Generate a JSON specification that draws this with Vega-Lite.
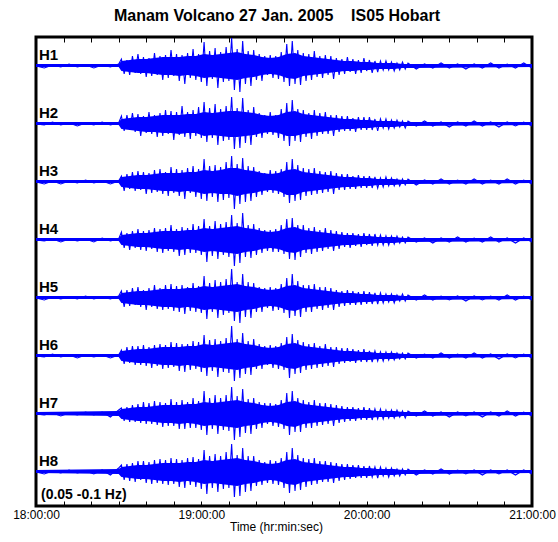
{
"$schema": "https://vega.github.io/schema/vega-lite/v6.json",
"width": 496, "height": 469,
"autosize": {"type": "none"},
"padding": {"left": 36, "top": 37, "right": 26, "bottom": 36},
"background": "white",
"title": {"text": "Manam Volcano 27 Jan. 2005\u00a0\u00a0\u00a0\u00a0IS05 Hobart", "font": "Liberation Sans", "fontSize": 16, "fontWeight": "bold", "color": "black", "offset": 13, "dx": -7},
"config": {"view": {"stroke": "black", "strokeWidth": 3}, "font": "Liberation Sans"},
"datasets": {"env": [
{"c":"H1","t":0,"lo":405,"hi":408},{"c":"H1","t":30,"lo":405,"hi":408},{"c":"H1","t":31,"lo":401,"hi":411},{"c":"H1","t":34,"lo":400,"hi":412},{"c":"H1","t":37,"lo":399,"hi":413},{"c":"H1","t":40,"lo":399,"hi":413},{"c":"H1","t":43,"lo":398,"hi":414},{"c":"H1","t":46,"lo":397,"hi":415},{"c":"H1","t":49,"lo":397,"hi":415},{"c":"H1","t":52,"lo":396,"hi":415},{"c":"H1","t":55,"lo":397,"hi":416},{"c":"H1","t":58,"lo":396,"hi":416},{"c":"H1","t":61,"lo":394,"hi":418},{"c":"H1","t":64,"lo":395,"hi":417},{"c":"H1","t":67,"lo":394,"hi":418},{"c":"H1","t":70,"lo":393,"hi":419},{"c":"H1","t":73,"lo":392,"hi":420},{"c":"H1","t":76,"lo":394,"hi":418},{"c":"H1","t":79,"lo":395,"hi":417},{"c":"H1","t":82,"lo":397,"hi":415},{"c":"H1","t":85,"lo":398,"hi":414},{"c":"H1","t":88,"lo":397,"hi":415},{"c":"H1","t":91,"lo":394,"hi":418},{"c":"H1","t":94,"lo":393,"hi":419},{"c":"H1","t":97,"lo":396,"hi":416},{"c":"H1","t":100,"lo":397,"hi":415},{"c":"H1","t":103,"lo":398,"hi":414},{"c":"H1","t":106,"lo":399,"hi":413},{"c":"H1","t":109,"lo":400,"hi":412},{"c":"H1","t":112,"lo":401,"hi":411},{"c":"H1","t":115,"lo":401,"hi":411},{"c":"H1","t":118,"lo":402,"hi":410},{"c":"H1","t":121,"lo":402,"hi":410},{"c":"H1","t":124,"lo":403,"hi":409},{"c":"H1","t":127,"lo":403,"hi":409},{"c":"H1","t":130,"lo":403,"hi":409},{"c":"H1","t":133,"lo":404,"hi":408},{"c":"H1","t":136,"lo":404,"hi":408},{"c":"H1","t":180,"lo":405,"hi":408},
{"c":"H2","t":0,"lo":347,"hi":350},{"c":"H2","t":30,"lo":347,"hi":350},{"c":"H2","t":31,"lo":343,"hi":353},{"c":"H2","t":34,"lo":342,"hi":354},{"c":"H2","t":37,"lo":341,"hi":355},{"c":"H2","t":40,"lo":340,"hi":355},{"c":"H2","t":43,"lo":340,"hi":356},{"c":"H2","t":46,"lo":339,"hi":357},{"c":"H2","t":49,"lo":339,"hi":357},{"c":"H2","t":52,"lo":338,"hi":357},{"c":"H2","t":55,"lo":339,"hi":358},{"c":"H2","t":58,"lo":339,"hi":358},{"c":"H2","t":61,"lo":336,"hi":360},{"c":"H2","t":64,"lo":337,"hi":359},{"c":"H2","t":67,"lo":336,"hi":360},{"c":"H2","t":70,"lo":335,"hi":361},{"c":"H2","t":73,"lo":335,"hi":361},{"c":"H2","t":76,"lo":336,"hi":360},{"c":"H2","t":79,"lo":337,"hi":359},{"c":"H2","t":82,"lo":339,"hi":357},{"c":"H2","t":85,"lo":340,"hi":356},{"c":"H2","t":88,"lo":339,"hi":357},{"c":"H2","t":91,"lo":336,"hi":360},{"c":"H2","t":94,"lo":336,"hi":361},{"c":"H2","t":97,"lo":338,"hi":358},{"c":"H2","t":100,"lo":339,"hi":357},{"c":"H2","t":103,"lo":340,"hi":356},{"c":"H2","t":106,"lo":341,"hi":355},{"c":"H2","t":109,"lo":342,"hi":354},{"c":"H2","t":112,"lo":343,"hi":353},{"c":"H2","t":115,"lo":343,"hi":353},{"c":"H2","t":118,"lo":344,"hi":352},{"c":"H2","t":121,"lo":344,"hi":352},{"c":"H2","t":124,"lo":345,"hi":351},{"c":"H2","t":127,"lo":345,"hi":351},{"c":"H2","t":130,"lo":345,"hi":351},{"c":"H2","t":133,"lo":346,"hi":350},{"c":"H2","t":136,"lo":346,"hi":350},{"c":"H2","t":180,"lo":347,"hi":350},
{"c":"H3","t":0,"lo":289,"hi":292},{"c":"H3","t":30,"lo":289,"hi":292},{"c":"H3","t":31,"lo":285,"hi":295},{"c":"H3","t":34,"lo":284,"hi":296},{"c":"H3","t":37,"lo":283,"hi":297},{"c":"H3","t":40,"lo":283,"hi":297},{"c":"H3","t":43,"lo":282,"hi":298},{"c":"H3","t":46,"lo":281,"hi":299},{"c":"H3","t":49,"lo":281,"hi":299},{"c":"H3","t":52,"lo":280,"hi":299},{"c":"H3","t":55,"lo":281,"hi":300},{"c":"H3","t":58,"lo":280,"hi":300},{"c":"H3","t":61,"lo":278,"hi":302},{"c":"H3","t":64,"lo":279,"hi":301},{"c":"H3","t":67,"lo":278,"hi":302},{"c":"H3","t":70,"lo":278,"hi":304},{"c":"H3","t":73,"lo":276,"hi":304},{"c":"H3","t":76,"lo":278,"hi":302},{"c":"H3","t":79,"lo":279,"hi":301},{"c":"H3","t":82,"lo":281,"hi":299},{"c":"H3","t":85,"lo":282,"hi":298},{"c":"H3","t":88,"lo":281,"hi":299},{"c":"H3","t":91,"lo":277,"hi":302},{"c":"H3","t":94,"lo":277,"hi":303},{"c":"H3","t":97,"lo":280,"hi":300},{"c":"H3","t":100,"lo":281,"hi":299},{"c":"H3","t":103,"lo":282,"hi":298},{"c":"H3","t":106,"lo":283,"hi":297},{"c":"H3","t":109,"lo":284,"hi":296},{"c":"H3","t":112,"lo":285,"hi":295},{"c":"H3","t":115,"lo":285,"hi":295},{"c":"H3","t":118,"lo":286,"hi":294},{"c":"H3","t":121,"lo":286,"hi":294},{"c":"H3","t":124,"lo":287,"hi":293},{"c":"H3","t":127,"lo":287,"hi":293},{"c":"H3","t":130,"lo":287,"hi":293},{"c":"H3","t":133,"lo":288,"hi":292},{"c":"H3","t":136,"lo":288,"hi":292},{"c":"H3","t":180,"lo":289,"hi":292},
{"c":"H4","t":0,"lo":231,"hi":234},{"c":"H4","t":30,"lo":231,"hi":234},{"c":"H4","t":31,"lo":227,"hi":237},{"c":"H4","t":34,"lo":226,"hi":238},{"c":"H4","t":37,"lo":225,"hi":239},{"c":"H4","t":40,"lo":225,"hi":239},{"c":"H4","t":43,"lo":224,"hi":240},{"c":"H4","t":46,"lo":223,"hi":241},{"c":"H4","t":49,"lo":223,"hi":241},{"c":"H4","t":52,"lo":222,"hi":241},{"c":"H4","t":55,"lo":223,"hi":242},{"c":"H4","t":58,"lo":222,"hi":242},{"c":"H4","t":61,"lo":220,"hi":244},{"c":"H4","t":64,"lo":221,"hi":243},{"c":"H4","t":67,"lo":220,"hi":244},{"c":"H4","t":70,"lo":219,"hi":245},{"c":"H4","t":73,"lo":218,"hi":246},{"c":"H4","t":76,"lo":220,"hi":244},{"c":"H4","t":79,"lo":221,"hi":243},{"c":"H4","t":82,"lo":223,"hi":241},{"c":"H4","t":85,"lo":224,"hi":240},{"c":"H4","t":88,"lo":223,"hi":241},{"c":"H4","t":91,"lo":220,"hi":244},{"c":"H4","t":94,"lo":219,"hi":245},{"c":"H4","t":97,"lo":222,"hi":242},{"c":"H4","t":100,"lo":223,"hi":241},{"c":"H4","t":103,"lo":224,"hi":240},{"c":"H4","t":106,"lo":225,"hi":239},{"c":"H4","t":109,"lo":226,"hi":238},{"c":"H4","t":112,"lo":227,"hi":237},{"c":"H4","t":115,"lo":227,"hi":237},{"c":"H4","t":118,"lo":228,"hi":236},{"c":"H4","t":121,"lo":228,"hi":236},{"c":"H4","t":124,"lo":229,"hi":235},{"c":"H4","t":127,"lo":229,"hi":235},{"c":"H4","t":130,"lo":229,"hi":235},{"c":"H4","t":133,"lo":230,"hi":234},{"c":"H4","t":136,"lo":230,"hi":234},{"c":"H4","t":180,"lo":231,"hi":234},
{"c":"H5","t":0,"lo":173,"hi":176},{"c":"H5","t":30,"lo":173,"hi":176},{"c":"H5","t":31,"lo":169,"hi":179},{"c":"H5","t":34,"lo":168,"hi":180},{"c":"H5","t":37,"lo":167,"hi":181},{"c":"H5","t":40,"lo":167,"hi":181},{"c":"H5","t":43,"lo":166,"hi":182},{"c":"H5","t":46,"lo":165,"hi":183},{"c":"H5","t":49,"lo":165,"hi":183},{"c":"H5","t":52,"lo":164,"hi":183},{"c":"H5","t":55,"lo":165,"hi":184},{"c":"H5","t":58,"lo":164,"hi":184},{"c":"H5","t":61,"lo":162,"hi":186},{"c":"H5","t":64,"lo":163,"hi":185},{"c":"H5","t":67,"lo":162,"hi":186},{"c":"H5","t":70,"lo":161,"hi":187},{"c":"H5","t":73,"lo":160,"hi":188},{"c":"H5","t":76,"lo":162,"hi":186},{"c":"H5","t":79,"lo":163,"hi":185},{"c":"H5","t":82,"lo":165,"hi":183},{"c":"H5","t":85,"lo":166,"hi":182},{"c":"H5","t":88,"lo":165,"hi":183},{"c":"H5","t":91,"lo":162,"hi":186},{"c":"H5","t":94,"lo":161,"hi":187},{"c":"H5","t":97,"lo":164,"hi":184},{"c":"H5","t":100,"lo":165,"hi":183},{"c":"H5","t":103,"lo":166,"hi":182},{"c":"H5","t":106,"lo":167,"hi":181},{"c":"H5","t":109,"lo":168,"hi":180},{"c":"H5","t":112,"lo":169,"hi":179},{"c":"H5","t":115,"lo":169,"hi":179},{"c":"H5","t":118,"lo":170,"hi":178},{"c":"H5","t":121,"lo":170,"hi":178},{"c":"H5","t":124,"lo":171,"hi":177},{"c":"H5","t":127,"lo":171,"hi":177},{"c":"H5","t":130,"lo":171,"hi":177},{"c":"H5","t":133,"lo":172,"hi":176},{"c":"H5","t":136,"lo":172,"hi":176},{"c":"H5","t":180,"lo":173,"hi":176},
{"c":"H6","t":0,"lo":115,"hi":118},{"c":"H6","t":30,"lo":115,"hi":118},{"c":"H6","t":31,"lo":111,"hi":121},{"c":"H6","t":34,"lo":110,"hi":122},{"c":"H6","t":37,"lo":109,"hi":123},{"c":"H6","t":40,"lo":109,"hi":123},{"c":"H6","t":43,"lo":108,"hi":124},{"c":"H6","t":46,"lo":107,"hi":125},{"c":"H6","t":49,"lo":107,"hi":125},{"c":"H6","t":52,"lo":106,"hi":125},{"c":"H6","t":55,"lo":107,"hi":126},{"c":"H6","t":58,"lo":106,"hi":126},{"c":"H6","t":61,"lo":104,"hi":128},{"c":"H6","t":64,"lo":105,"hi":127},{"c":"H6","t":67,"lo":104,"hi":128},{"c":"H6","t":70,"lo":103,"hi":129},{"c":"H6","t":73,"lo":102,"hi":130},{"c":"H6","t":76,"lo":104,"hi":128},{"c":"H6","t":79,"lo":105,"hi":127},{"c":"H6","t":82,"lo":107,"hi":125},{"c":"H6","t":85,"lo":108,"hi":124},{"c":"H6","t":88,"lo":107,"hi":125},{"c":"H6","t":91,"lo":104,"hi":128},{"c":"H6","t":94,"lo":103,"hi":129},{"c":"H6","t":97,"lo":106,"hi":126},{"c":"H6","t":100,"lo":107,"hi":125},{"c":"H6","t":103,"lo":108,"hi":124},{"c":"H6","t":106,"lo":109,"hi":123},{"c":"H6","t":109,"lo":110,"hi":122},{"c":"H6","t":112,"lo":111,"hi":121},{"c":"H6","t":115,"lo":111,"hi":121},{"c":"H6","t":118,"lo":112,"hi":120},{"c":"H6","t":121,"lo":112,"hi":120},{"c":"H6","t":124,"lo":113,"hi":119},{"c":"H6","t":127,"lo":113,"hi":119},{"c":"H6","t":130,"lo":113,"hi":119},{"c":"H6","t":133,"lo":114,"hi":118},{"c":"H6","t":136,"lo":114,"hi":118},{"c":"H6","t":180,"lo":115,"hi":118},
{"c":"H7","t":0,"lo":57,"hi":60},{"c":"H7","t":30,"lo":56,"hi":61},{"c":"H7","t":31,"lo":53,"hi":63},{"c":"H7","t":34,"lo":52,"hi":64},{"c":"H7","t":37,"lo":51,"hi":65},{"c":"H7","t":40,"lo":51,"hi":65},{"c":"H7","t":43,"lo":50,"hi":66},{"c":"H7","t":46,"lo":49,"hi":67},{"c":"H7","t":49,"lo":49,"hi":67},{"c":"H7","t":52,"lo":48,"hi":67},{"c":"H7","t":55,"lo":49,"hi":68},{"c":"H7","t":58,"lo":48,"hi":68},{"c":"H7","t":61,"lo":46,"hi":70},{"c":"H7","t":64,"lo":47,"hi":69},{"c":"H7","t":67,"lo":46,"hi":70},{"c":"H7","t":70,"lo":45,"hi":71},{"c":"H7","t":73,"lo":44,"hi":72},{"c":"H7","t":76,"lo":46,"hi":70},{"c":"H7","t":79,"lo":47,"hi":69},{"c":"H7","t":82,"lo":49,"hi":67},{"c":"H7","t":85,"lo":50,"hi":66},{"c":"H7","t":88,"lo":49,"hi":67},{"c":"H7","t":91,"lo":46,"hi":70},{"c":"H7","t":94,"lo":45,"hi":71},{"c":"H7","t":97,"lo":48,"hi":68},{"c":"H7","t":100,"lo":49,"hi":67},{"c":"H7","t":103,"lo":50,"hi":66},{"c":"H7","t":106,"lo":51,"hi":65},{"c":"H7","t":109,"lo":52,"hi":64},{"c":"H7","t":112,"lo":53,"hi":63},{"c":"H7","t":115,"lo":53,"hi":63},{"c":"H7","t":118,"lo":54,"hi":62},{"c":"H7","t":121,"lo":54,"hi":62},{"c":"H7","t":124,"lo":55,"hi":61},{"c":"H7","t":127,"lo":55,"hi":61},{"c":"H7","t":130,"lo":55,"hi":61},{"c":"H7","t":133,"lo":56,"hi":60},{"c":"H7","t":136,"lo":56,"hi":60},{"c":"H7","t":180,"lo":57,"hi":60},
{"c":"H8","t":0,"lo":-1,"hi":2},{"c":"H8","t":30,"lo":-2,"hi":3},{"c":"H8","t":31,"lo":-5,"hi":5},{"c":"H8","t":34,"lo":-6,"hi":6},{"c":"H8","t":37,"lo":-7,"hi":7},{"c":"H8","t":40,"lo":-7,"hi":7},{"c":"H8","t":43,"lo":-8,"hi":8},{"c":"H8","t":46,"lo":-9,"hi":9},{"c":"H8","t":49,"lo":-9,"hi":9},{"c":"H8","t":52,"lo":-10,"hi":9},{"c":"H8","t":55,"lo":-9,"hi":10},{"c":"H8","t":58,"lo":-10,"hi":10},{"c":"H8","t":61,"lo":-12,"hi":12},{"c":"H8","t":64,"lo":-11,"hi":11},{"c":"H8","t":67,"lo":-12,"hi":12},{"c":"H8","t":70,"lo":-13,"hi":13},{"c":"H8","t":73,"lo":-14,"hi":14},{"c":"H8","t":76,"lo":-12,"hi":12},{"c":"H8","t":79,"lo":-11,"hi":11},{"c":"H8","t":82,"lo":-9,"hi":9},{"c":"H8","t":85,"lo":-8,"hi":8},{"c":"H8","t":88,"lo":-9,"hi":9},{"c":"H8","t":91,"lo":-12,"hi":12},{"c":"H8","t":94,"lo":-13,"hi":13},{"c":"H8","t":97,"lo":-10,"hi":10},{"c":"H8","t":100,"lo":-9,"hi":9},{"c":"H8","t":103,"lo":-8,"hi":8},{"c":"H8","t":106,"lo":-7,"hi":7},{"c":"H8","t":109,"lo":-6,"hi":6},{"c":"H8","t":112,"lo":-5,"hi":5},{"c":"H8","t":115,"lo":-5,"hi":5},{"c":"H8","t":118,"lo":-4,"hi":4},{"c":"H8","t":121,"lo":-4,"hi":4},{"c":"H8","t":124,"lo":-3,"hi":3},{"c":"H8","t":127,"lo":-3,"hi":3},{"c":"H8","t":130,"lo":-3,"hi":3},{"c":"H8","t":133,"lo":-2,"hi":2},{"c":"H8","t":136,"lo":-2,"hi":2},{"c":"H8","t":180,"lo":-1,"hi":2}
]},
"data": {"values": [
{"c":"H1","t":0,"v":406},{"c":"H1","t":3,"v":404},{"c":"H1","t":6,"v":407},{"c":"H1","t":9,"v":405},{"c":"H1","t":12,"v":408},{"c":"H1","t":15,"v":405},{"c":"H1","t":18,"v":407},{"c":"H1","t":21,"v":404},{"c":"H1","t":24,"v":407},{"c":"H1","t":27,"v":405},{"c":"H1","t":30,"v":408},
{"c":"H1","t":31,"v":413},{"c":"H1","t":32,"v":398},{"c":"H1","t":33,"v":412},{"c":"H1","t":34,"v":397},{"c":"H1","t":35,"v":416},{"c":"H1","t":36,"v":399},{"c":"H1","t":37,"v":418},{"c":"H1","t":38,"v":398},{"c":"H1","t":39,"v":415},{"c":"H1","t":40,"v":395},
{"c":"H1","t":41,"v":414},{"c":"H1","t":42,"v":396},{"c":"H1","t":43,"v":419},{"c":"H1","t":44,"v":397},{"c":"H1","t":45,"v":416},{"c":"H1","t":46,"v":392},{"c":"H1","t":47,"v":417},{"c":"H1","t":48,"v":394},{"c":"H1","t":49,"v":422},{"c":"H1","t":50,"v":396},
{"c":"H1","t":51,"v":418},{"c":"H1","t":52,"v":391},{"c":"H1","t":53,"v":417},{"c":"H1","t":54,"v":388},{"c":"H1","t":55,"v":419},{"c":"H1","t":56,"v":394},{"c":"H1","t":57,"v":423},{"c":"H1","t":58,"v":392},{"c":"H1","t":59,"v":418},{"c":"H1","t":60,"v":390},
{"c":"H1","t":61,"v":430},{"c":"H1","t":62,"v":386},{"c":"H1","t":63,"v":421},{"c":"H1","t":64,"v":393},{"c":"H1","t":65,"v":424},{"c":"H1","t":66,"v":384},{"c":"H1","t":67,"v":420},{"c":"H1","t":68,"v":390},{"c":"H1","t":69,"v":425},{"c":"H1","t":70,"v":391},
{"c":"H1","t":71,"v":434},{"c":"H1","t":72,"v":382},{"c":"H1","t":73,"v":423},{"c":"H1","t":74,"v":380},{"c":"H1","t":75,"v":431},{"c":"H1","t":76,"v":388},{"c":"H1","t":77,"v":421},{"c":"H1","t":78,"v":386},{"c":"H1","t":79,"v":422},{"c":"H1","t":80,"v":392},
{"c":"H1","t":81,"v":418},{"c":"H1","t":82,"v":391},{"c":"H1","t":83,"v":416},{"c":"H1","t":84,"v":397},{"c":"H1","t":85,"v":417},{"c":"H1","t":86,"v":394},{"c":"H1","t":87,"v":416},{"c":"H1","t":88,"v":393},{"c":"H1","t":89,"v":420},{"c":"H1","t":90,"v":390},
{"c":"H1","t":91,"v":428},{"c":"H1","t":92,"v":386},{"c":"H1","t":93,"v":431},{"c":"H1","t":94,"v":388},{"c":"H1","t":95,"v":422},{"c":"H1","t":96,"v":387},{"c":"H1","t":97,"v":419},{"c":"H1","t":98,"v":391},{"c":"H1","t":99,"v":418},{"c":"H1","t":100,"v":392},
{"c":"H1","t":101,"v":421},{"c":"H1","t":102,"v":395},{"c":"H1","t":103,"v":416},{"c":"H1","t":104,"v":394},{"c":"H1","t":105,"v":417},{"c":"H1","t":106,"v":397},{"c":"H1","t":107,"v":416},{"c":"H1","t":108,"v":393},{"c":"H1","t":109,"v":414},{"c":"H1","t":110,"v":397},
{"c":"H1","t":111,"v":413},{"c":"H1","t":112,"v":398},{"c":"H1","t":113,"v":415},{"c":"H1","t":114,"v":400},{"c":"H1","t":115,"v":413},{"c":"H1","t":116,"v":398},{"c":"H1","t":117,"v":412},{"c":"H1","t":118,"v":399},{"c":"H1","t":119,"v":414},{"c":"H1","t":120,"v":401},
{"c":"H1","t":121,"v":412},{"c":"H1","t":122,"v":399},{"c":"H1","t":123,"v":411},{"c":"H1","t":124,"v":400},{"c":"H1","t":125,"v":411},{"c":"H1","t":126,"v":402},{"c":"H1","t":127,"v":411},{"c":"H1","t":128,"v":402},{"c":"H1","t":129,"v":410},{"c":"H1","t":130,"v":401},{"c":"H1","t":131,"v":409},{"c":"H1","t":132,"v":402},{"c":"H1","t":133,"v":410},{"c":"H1","t":134,"v":403},{"c":"H1","t":135,"v":409},
{"c":"H1","t":138,"v":403},{"c":"H1","t":141,"v":408},{"c":"H1","t":144,"v":404},{"c":"H1","t":147,"v":409},{"c":"H1","t":150,"v":404},{"c":"H1","t":153,"v":408},{"c":"H1","t":156,"v":403},{"c":"H1","t":159,"v":408},{"c":"H1","t":162,"v":404},{"c":"H1","t":165,"v":409},{"c":"H1","t":168,"v":404},{"c":"H1","t":171,"v":408},{"c":"H1","t":174,"v":404},{"c":"H1","t":177,"v":409},{"c":"H1","t":180,"v":404},

{"c":"H2","t":0,"v":348},{"c":"H2","t":3,"v":347},{"c":"H2","t":6,"v":350},{"c":"H2","t":9,"v":347},{"c":"H2","t":12,"v":349},{"c":"H2","t":15,"v":346},{"c":"H2","t":18,"v":349},{"c":"H2","t":21,"v":347},{"c":"H2","t":24,"v":350},{"c":"H2","t":27,"v":347},{"c":"H2","t":30,"v":349},
{"c":"H2","t":31,"v":356},{"c":"H2","t":32,"v":341},{"c":"H2","t":33,"v":357},{"c":"H2","t":34,"v":342},{"c":"H2","t":35,"v":359},{"c":"H2","t":36,"v":340},{"c":"H2","t":37,"v":358},{"c":"H2","t":38,"v":336},{"c":"H2","t":39,"v":356},{"c":"H2","t":40,"v":339},
{"c":"H2","t":41,"v":360},{"c":"H2","t":42,"v":338},{"c":"H2","t":43,"v":357},{"c":"H2","t":44,"v":335},{"c":"H2","t":45,"v":359},{"c":"H2","t":46,"v":336},{"c":"H2","t":47,"v":362},{"c":"H2","t":48,"v":338},{"c":"H2","t":49,"v":361},{"c":"H2","t":50,"v":332},
{"c":"H2","t":51,"v":360},{"c":"H2","t":52,"v":337},{"c":"H2","t":53,"v":366},{"c":"H2","t":54,"v":335},{"c":"H2","t":55,"v":360},{"c":"H2","t":56,"v":333},{"c":"H2","t":57,"v":362},{"c":"H2","t":58,"v":336},{"c":"H2","t":59,"v":365},{"c":"H2","t":60,"v":334},
{"c":"H2","t":61,"v":370},{"c":"H2","t":62,"v":330},{"c":"H2","t":63,"v":364},{"c":"H2","t":64,"v":334},{"c":"H2","t":65,"v":368},{"c":"H2","t":66,"v":327},{"c":"H2","t":67,"v":363},{"c":"H2","t":68,"v":331},{"c":"H2","t":69,"v":366},{"c":"H2","t":70,"v":332},
{"c":"H2","t":71,"v":375},{"c":"H2","t":72,"v":323},{"c":"H2","t":73,"v":364},{"c":"H2","t":74,"v":324},{"c":"H2","t":75,"v":374},{"c":"H2","t":76,"v":329},{"c":"H2","t":77,"v":362},{"c":"H2","t":78,"v":327},{"c":"H2","t":79,"v":365},{"c":"H2","t":80,"v":335},
{"c":"H2","t":81,"v":359},{"c":"H2","t":82,"v":334},{"c":"H2","t":83,"v":357},{"c":"H2","t":84,"v":338},{"c":"H2","t":85,"v":360},{"c":"H2","t":86,"v":337},{"c":"H2","t":87,"v":357},{"c":"H2","t":88,"v":334},{"c":"H2","t":89,"v":363},{"c":"H2","t":90,"v":331},
{"c":"H2","t":91,"v":369},{"c":"H2","t":92,"v":326},{"c":"H2","t":93,"v":372},{"c":"H2","t":94,"v":331},{"c":"H2","t":95,"v":363},{"c":"H2","t":96,"v":330},{"c":"H2","t":97,"v":362},{"c":"H2","t":98,"v":335},{"c":"H2","t":99,"v":359},{"c":"H2","t":100,"v":333},
{"c":"H2","t":101,"v":362},{"c":"H2","t":102,"v":336},{"c":"H2","t":103,"v":359},{"c":"H2","t":104,"v":338},{"c":"H2","t":105,"v":360},{"c":"H2","t":106,"v":338},{"c":"H2","t":107,"v":357},{"c":"H2","t":108,"v":336},{"c":"H2","t":109,"v":357},{"c":"H2","t":110,"v":340},
{"c":"H2","t":111,"v":356},{"c":"H2","t":112,"v":341},{"c":"H2","t":113,"v":356},{"c":"H2","t":114,"v":341},{"c":"H2","t":115,"v":354},{"c":"H2","t":116,"v":340},{"c":"H2","t":117,"v":355},{"c":"H2","t":118,"v":342},{"c":"H2","t":119,"v":355},{"c":"H2","t":120,"v":342},
{"c":"H2","t":121,"v":355},{"c":"H2","t":122,"v":342},{"c":"H2","t":123,"v":353},{"c":"H2","t":124,"v":341},{"c":"H2","t":125,"v":353},{"c":"H2","t":126,"v":344},{"c":"H2","t":127,"v":353},{"c":"H2","t":128,"v":343},{"c":"H2","t":129,"v":352},{"c":"H2","t":130,"v":344},{"c":"H2","t":131,"v":352},{"c":"H2","t":132,"v":345},{"c":"H2","t":133,"v":351},{"c":"H2","t":134,"v":344},{"c":"H2","t":135,"v":351},
{"c":"H2","t":138,"v":346},{"c":"H2","t":141,"v":351},{"c":"H2","t":144,"v":346},{"c":"H2","t":147,"v":350},{"c":"H2","t":150,"v":345},{"c":"H2","t":153,"v":350},{"c":"H2","t":156,"v":346},{"c":"H2","t":159,"v":351},{"c":"H2","t":162,"v":346},{"c":"H2","t":165,"v":350},{"c":"H2","t":168,"v":345},{"c":"H2","t":171,"v":350},{"c":"H2","t":174,"v":346},{"c":"H2","t":177,"v":350},{"c":"H2","t":180,"v":346},

{"c":"H3","t":0,"v":290},{"c":"H3","t":3,"v":288},{"c":"H3","t":6,"v":291},{"c":"H3","t":9,"v":288},{"c":"H3","t":12,"v":291},{"c":"H3","t":15,"v":289},{"c":"H3","t":18,"v":292},{"c":"H3","t":21,"v":289},{"c":"H3","t":24,"v":291},{"c":"H3","t":27,"v":288},{"c":"H3","t":30,"v":291},
{"c":"H3","t":31,"v":296},{"c":"H3","t":32,"v":281},{"c":"H3","t":33,"v":298},{"c":"H3","t":34,"v":283},{"c":"H3","t":35,"v":300},{"c":"H3","t":36,"v":281},{"c":"H3","t":37,"v":301},{"c":"H3","t":38,"v":282},{"c":"H3","t":39,"v":300},{"c":"H3","t":40,"v":278},
{"c":"H3","t":41,"v":299},{"c":"H3","t":42,"v":279},{"c":"H3","t":43,"v":302},{"c":"H3","t":44,"v":280},{"c":"H3","t":45,"v":303},{"c":"H3","t":46,"v":278},{"c":"H3","t":47,"v":300},{"c":"H3","t":48,"v":276},{"c":"H3","t":49,"v":305},{"c":"H3","t":50,"v":279},
{"c":"H3","t":51,"v":303},{"c":"H3","t":52,"v":276},{"c":"H3","t":53,"v":302},{"c":"H3","t":54,"v":273},{"c":"H3","t":55,"v":304},{"c":"H3","t":56,"v":279},{"c":"H3","t":57,"v":306},{"c":"H3","t":58,"v":275},{"c":"H3","t":59,"v":303},{"c":"H3","t":60,"v":273},
{"c":"H3","t":61,"v":313},{"c":"H3","t":62,"v":271},{"c":"H3","t":63,"v":306},{"c":"H3","t":64,"v":275},{"c":"H3","t":65,"v":307},{"c":"H3","t":66,"v":270},{"c":"H3","t":67,"v":305},{"c":"H3","t":68,"v":272},{"c":"H3","t":69,"v":310},{"c":"H3","t":70,"v":274},
{"c":"H3","t":71,"v":316},{"c":"H3","t":72,"v":263},{"c":"H3","t":73,"v":308},{"c":"H3","t":74,"v":268},{"c":"H3","t":75,"v":314},{"c":"H3","t":76,"v":270},{"c":"H3","t":77,"v":306},{"c":"H3","t":78,"v":271},{"c":"H3","t":79,"v":305},{"c":"H3","t":80,"v":275},
{"c":"H3","t":81,"v":301},{"c":"H3","t":82,"v":277},{"c":"H3","t":83,"v":299},{"c":"H3","t":84,"v":280},{"c":"H3","t":85,"v":302},{"c":"H3","t":86,"v":279},{"c":"H3","t":87,"v":301},{"c":"H3","t":88,"v":278},{"c":"H3","t":89,"v":303},{"c":"H3","t":90,"v":275},
{"c":"H3","t":91,"v":310},{"c":"H3","t":92,"v":269},{"c":"H3","t":93,"v":313},{"c":"H3","t":94,"v":271},{"c":"H3","t":95,"v":307},{"c":"H3","t":96,"v":272},{"c":"H3","t":97,"v":304},{"c":"H3","t":98,"v":276},{"c":"H3","t":99,"v":303},{"c":"H3","t":100,"v":277},
{"c":"H3","t":101,"v":304},{"c":"H3","t":102,"v":278},{"c":"H3","t":103,"v":301},{"c":"H3","t":104,"v":279},{"c":"H3","t":105,"v":300},{"c":"H3","t":106,"v":280},{"c":"H3","t":107,"v":301},{"c":"H3","t":108,"v":278},{"c":"H3","t":109,"v":299},{"c":"H3","t":110,"v":282},
{"c":"H3","t":111,"v":298},{"c":"H3","t":112,"v":282},{"c":"H3","t":113,"v":298},{"c":"H3","t":114,"v":283},{"c":"H3","t":115,"v":296},{"c":"H3","t":116,"v":283},{"c":"H3","t":117,"v":297},{"c":"H3","t":118,"v":284},{"c":"H3","t":119,"v":296},{"c":"H3","t":120,"v":284},
{"c":"H3","t":121,"v":296},{"c":"H3","t":122,"v":284},{"c":"H3","t":123,"v":295},{"c":"H3","t":124,"v":284},{"c":"H3","t":125,"v":294},{"c":"H3","t":126,"v":285},{"c":"H3","t":127,"v":295},{"c":"H3","t":128,"v":286},{"c":"H3","t":129,"v":294},{"c":"H3","t":130,"v":286},{"c":"H3","t":131,"v":293},{"c":"H3","t":132,"v":286},{"c":"H3","t":133,"v":293},{"c":"H3","t":134,"v":287},{"c":"H3","t":135,"v":293},
{"c":"H3","t":138,"v":287},{"c":"H3","t":141,"v":292},{"c":"H3","t":144,"v":288},{"c":"H3","t":147,"v":293},{"c":"H3","t":150,"v":288},{"c":"H3","t":153,"v":292},{"c":"H3","t":156,"v":288},{"c":"H3","t":159,"v":293},{"c":"H3","t":162,"v":288},{"c":"H3","t":165,"v":292},{"c":"H3","t":168,"v":288},{"c":"H3","t":171,"v":293},{"c":"H3","t":174,"v":288},{"c":"H3","t":177,"v":292},{"c":"H3","t":180,"v":288},

{"c":"H4","t":0,"v":232},{"c":"H4","t":3,"v":231},{"c":"H4","t":6,"v":233},{"c":"H4","t":9,"v":230},{"c":"H4","t":12,"v":233},{"c":"H4","t":15,"v":231},{"c":"H4","t":18,"v":233},{"c":"H4","t":21,"v":230},{"c":"H4","t":24,"v":234},{"c":"H4","t":27,"v":231},{"c":"H4","t":30,"v":233},
{"c":"H4","t":31,"v":240},{"c":"H4","t":32,"v":224},{"c":"H4","t":33,"v":239},{"c":"H4","t":34,"v":222},{"c":"H4","t":35,"v":241},{"c":"H4","t":36,"v":224},{"c":"H4","t":37,"v":243},{"c":"H4","t":38,"v":222},{"c":"H4","t":39,"v":241},{"c":"H4","t":40,"v":221},
{"c":"H4","t":41,"v":242},{"c":"H4","t":42,"v":223},{"c":"H4","t":43,"v":244},{"c":"H4","t":44,"v":220},{"c":"H4","t":45,"v":243},{"c":"H4","t":46,"v":219},{"c":"H4","t":47,"v":244},{"c":"H4","t":48,"v":221},{"c":"H4","t":49,"v":247},{"c":"H4","t":50,"v":220},
{"c":"H4","t":51,"v":243},{"c":"H4","t":52,"v":216},{"c":"H4","t":53,"v":245},{"c":"H4","t":54,"v":217},{"c":"H4","t":55,"v":244},{"c":"H4","t":56,"v":219},{"c":"H4","t":57,"v":248},{"c":"H4","t":58,"v":219},{"c":"H4","t":59,"v":246},{"c":"H4","t":60,"v":217},
{"c":"H4","t":61,"v":253},{"c":"H4","t":62,"v":210},{"c":"H4","t":63,"v":246},{"c":"H4","t":64,"v":216},{"c":"H4","t":65,"v":251},{"c":"H4","t":66,"v":213},{"c":"H4","t":67,"v":248},{"c":"H4","t":68,"v":217},{"c":"H4","t":69,"v":250},{"c":"H4","t":70,"v":215},
{"c":"H4","t":71,"v":257},{"c":"H4","t":72,"v":206},{"c":"H4","t":73,"v":249},{"c":"H4","t":74,"v":209},{"c":"H4","t":75,"v":259},{"c":"H4","t":76,"v":215},{"c":"H4","t":77,"v":247},{"c":"H4","t":78,"v":214},{"c":"H4","t":79,"v":248},{"c":"H4","t":80,"v":217},
{"c":"H4","t":81,"v":244},{"c":"H4","t":82,"v":219},{"c":"H4","t":83,"v":242},{"c":"H4","t":84,"v":221},{"c":"H4","t":85,"v":242},{"c":"H4","t":86,"v":220},{"c":"H4","t":87,"v":243},{"c":"H4","t":88,"v":220},{"c":"H4","t":89,"v":247},{"c":"H4","t":90,"v":218},
{"c":"H4","t":91,"v":253},{"c":"H4","t":92,"v":213},{"c":"H4","t":93,"v":254},{"c":"H4","t":94,"v":212},{"c":"H4","t":95,"v":247},{"c":"H4","t":96,"v":215},{"c":"H4","t":97,"v":247},{"c":"H4","t":98,"v":219},{"c":"H4","t":99,"v":244},{"c":"H4","t":100,"v":218},
{"c":"H4","t":101,"v":245},{"c":"H4","t":102,"v":220},{"c":"H4","t":103,"v":242},{"c":"H4","t":104,"v":221},{"c":"H4","t":105,"v":244},{"c":"H4","t":106,"v":223},{"c":"H4","t":107,"v":242},{"c":"H4","t":108,"v":221},{"c":"H4","t":109,"v":241},{"c":"H4","t":110,"v":223},
{"c":"H4","t":111,"v":240},{"c":"H4","t":112,"v":225},{"c":"H4","t":113,"v":239},{"c":"H4","t":114,"v":224},{"c":"H4","t":115,"v":239},{"c":"H4","t":116,"v":226},{"c":"H4","t":117,"v":238},{"c":"H4","t":118,"v":225},{"c":"H4","t":119,"v":239},{"c":"H4","t":120,"v":227},
{"c":"H4","t":121,"v":238},{"c":"H4","t":122,"v":226},{"c":"H4","t":123,"v":238},{"c":"H4","t":124,"v":227},{"c":"H4","t":125,"v":237},{"c":"H4","t":126,"v":227},{"c":"H4","t":127,"v":236},{"c":"H4","t":128,"v":227},{"c":"H4","t":129,"v":236},{"c":"H4","t":130,"v":228},{"c":"H4","t":131,"v":236},{"c":"H4","t":132,"v":229},{"c":"H4","t":133,"v":235},{"c":"H4","t":134,"v":229},{"c":"H4","t":135,"v":235},
{"c":"H4","t":138,"v":230},{"c":"H4","t":141,"v":234},{"c":"H4","t":144,"v":229},{"c":"H4","t":147,"v":234},{"c":"H4","t":150,"v":230},{"c":"H4","t":153,"v":235},{"c":"H4","t":156,"v":230},{"c":"H4","t":159,"v":234},{"c":"H4","t":162,"v":230},{"c":"H4","t":165,"v":235},{"c":"H4","t":168,"v":230},{"c":"H4","t":171,"v":234},{"c":"H4","t":174,"v":229},{"c":"H4","t":177,"v":234},{"c":"H4","t":180,"v":230},

{"c":"H5","t":0,"v":174},{"c":"H5","t":3,"v":172},{"c":"H5","t":6,"v":175},{"c":"H5","t":9,"v":173},{"c":"H5","t":12,"v":175},{"c":"H5","t":15,"v":173},{"c":"H5","t":18,"v":176},{"c":"H5","t":21,"v":173},{"c":"H5","t":24,"v":175},{"c":"H5","t":27,"v":173},{"c":"H5","t":30,"v":176},
{"c":"H5","t":31,"v":181},{"c":"H5","t":32,"v":165},{"c":"H5","t":33,"v":182},{"c":"H5","t":34,"v":166},{"c":"H5","t":35,"v":184},{"c":"H5","t":36,"v":167},{"c":"H5","t":37,"v":185},{"c":"H5","t":38,"v":165},{"c":"H5","t":39,"v":182},{"c":"H5","t":40,"v":162},
{"c":"H5","t":41,"v":184},{"c":"H5","t":42,"v":165},{"c":"H5","t":43,"v":187},{"c":"H5","t":44,"v":163},{"c":"H5","t":45,"v":184},{"c":"H5","t":46,"v":162},{"c":"H5","t":47,"v":187},{"c":"H5","t":48,"v":163},{"c":"H5","t":49,"v":188},{"c":"H5","t":50,"v":161},
{"c":"H5","t":51,"v":186},{"c":"H5","t":52,"v":160},{"c":"H5","t":53,"v":187},{"c":"H5","t":54,"v":158},{"c":"H5","t":55,"v":185},{"c":"H5","t":56,"v":161},{"c":"H5","t":57,"v":189},{"c":"H5","t":58,"v":160},{"c":"H5","t":59,"v":186},{"c":"H5","t":60,"v":159},
{"c":"H5","t":61,"v":196},{"c":"H5","t":62,"v":153},{"c":"H5","t":63,"v":189},{"c":"H5","t":64,"v":160},{"c":"H5","t":65,"v":192},{"c":"H5","t":66,"v":154},{"c":"H5","t":67,"v":190},{"c":"H5","t":68,"v":157},{"c":"H5","t":69,"v":193},{"c":"H5","t":70,"v":159},
{"c":"H5","t":71,"v":203},{"c":"H5","t":72,"v":151},{"c":"H5","t":73,"v":190},{"c":"H5","t":74,"v":149},{"c":"H5","t":75,"v":198},{"c":"H5","t":76,"v":155},{"c":"H5","t":77,"v":190},{"c":"H5","t":78,"v":154},{"c":"H5","t":79,"v":189},{"c":"H5","t":80,"v":160},
{"c":"H5","t":81,"v":185},{"c":"H5","t":82,"v":160},{"c":"H5","t":83,"v":184},{"c":"H5","t":84,"v":164},{"c":"H5","t":85,"v":185},{"c":"H5","t":86,"v":161},{"c":"H5","t":87,"v":184},{"c":"H5","t":88,"v":162},{"c":"H5","t":89,"v":188},{"c":"H5","t":90,"v":159},
{"c":"H5","t":91,"v":194},{"c":"H5","t":92,"v":154},{"c":"H5","t":93,"v":198},{"c":"H5","t":94,"v":156},{"c":"H5","t":95,"v":191},{"c":"H5","t":96,"v":155},{"c":"H5","t":97,"v":187},{"c":"H5","t":98,"v":160},{"c":"H5","t":99,"v":187},{"c":"H5","t":100,"v":160},
{"c":"H5","t":101,"v":188},{"c":"H5","t":102,"v":163},{"c":"H5","t":103,"v":185},{"c":"H5","t":104,"v":162},{"c":"H5","t":105,"v":185},{"c":"H5","t":106,"v":164},{"c":"H5","t":107,"v":184},{"c":"H5","t":108,"v":162},{"c":"H5","t":109,"v":182},{"c":"H5","t":110,"v":165},
{"c":"H5","t":111,"v":181},{"c":"H5","t":112,"v":166},{"c":"H5","t":113,"v":182},{"c":"H5","t":114,"v":167},{"c":"H5","t":115,"v":181},{"c":"H5","t":116,"v":167},{"c":"H5","t":117,"v":180},{"c":"H5","t":118,"v":167},{"c":"H5","t":119,"v":181},{"c":"H5","t":120,"v":168},
{"c":"H5","t":121,"v":180},{"c":"H5","t":122,"v":168},{"c":"H5","t":123,"v":179},{"c":"H5","t":124,"v":168},{"c":"H5","t":125,"v":179},{"c":"H5","t":126,"v":169},{"c":"H5","t":127,"v":178},{"c":"H5","t":128,"v":170},{"c":"H5","t":129,"v":178},{"c":"H5","t":130,"v":169},{"c":"H5","t":131,"v":177},{"c":"H5","t":132,"v":171},{"c":"H5","t":133,"v":178},{"c":"H5","t":134,"v":171},{"c":"H5","t":135,"v":177},
{"c":"H5","t":138,"v":172},{"c":"H5","t":141,"v":177},{"c":"H5","t":144,"v":172},{"c":"H5","t":147,"v":176},{"c":"H5","t":150,"v":172},{"c":"H5","t":153,"v":176},{"c":"H5","t":156,"v":171},{"c":"H5","t":159,"v":176},{"c":"H5","t":162,"v":172},{"c":"H5","t":165,"v":176},{"c":"H5","t":168,"v":172},{"c":"H5","t":171,"v":177},{"c":"H5","t":174,"v":172},{"c":"H5","t":177,"v":176},{"c":"H5","t":180,"v":172},

{"c":"H6","t":0,"v":116},{"c":"H6","t":3,"v":115},{"c":"H6","t":6,"v":118},{"c":"H6","t":9,"v":115},{"c":"H6","t":12,"v":117},{"c":"H6","t":15,"v":114},{"c":"H6","t":18,"v":117},{"c":"H6","t":21,"v":115},{"c":"H6","t":24,"v":117},{"c":"H6","t":27,"v":114},{"c":"H6","t":30,"v":117},
{"c":"H6","t":31,"v":122},{"c":"H6","t":32,"v":108},{"c":"H6","t":33,"v":125},{"c":"H6","t":34,"v":109},{"c":"H6","t":35,"v":126},{"c":"H6","t":36,"v":107},{"c":"H6","t":37,"v":126},{"c":"H6","t":38,"v":107},{"c":"H6","t":39,"v":127},{"c":"H6","t":40,"v":106},
{"c":"H6","t":41,"v":125},{"c":"H6","t":42,"v":104},{"c":"H6","t":43,"v":127},{"c":"H6","t":44,"v":106},{"c":"H6","t":45,"v":128},{"c":"H6","t":46,"v":103},{"c":"H6","t":47,"v":127},{"c":"H6","t":48,"v":104},{"c":"H6","t":49,"v":130},{"c":"H6","t":50,"v":105},
{"c":"H6","t":51,"v":129},{"c":"H6","t":52,"v":101},{"c":"H6","t":53,"v":128},{"c":"H6","t":54,"v":100},{"c":"H6","t":55,"v":128},{"c":"H6","t":56,"v":102},{"c":"H6","t":57,"v":131},{"c":"H6","t":58,"v":103},{"c":"H6","t":59,"v":130},{"c":"H6","t":60,"v":100},
{"c":"H6","t":61,"v":137},{"c":"H6","t":62,"v":96},{"c":"H6","t":63,"v":132},{"c":"H6","t":64,"v":101},{"c":"H6","t":65,"v":133},{"c":"H6","t":66,"v":95},{"c":"H6","t":67,"v":131},{"c":"H6","t":68,"v":100},{"c":"H6","t":69,"v":134},{"c":"H6","t":70,"v":99},
{"c":"H6","t":71,"v":146},{"c":"H6","t":72,"v":91},{"c":"H6","t":73,"v":133},{"c":"H6","t":74,"v":94},{"c":"H6","t":75,"v":139},{"c":"H6","t":76,"v":98},{"c":"H6","t":77,"v":131},{"c":"H6","t":78,"v":97},{"c":"H6","t":79,"v":133},{"c":"H6","t":80,"v":103},
{"c":"H6","t":81,"v":128},{"c":"H6","t":82,"v":103},{"c":"H6","t":83,"v":126},{"c":"H6","t":84,"v":107},{"c":"H6","t":85,"v":127},{"c":"H6","t":86,"v":104},{"c":"H6","t":87,"v":126},{"c":"H6","t":88,"v":103},{"c":"H6","t":89,"v":129},{"c":"H6","t":90,"v":102},
{"c":"H6","t":91,"v":135},{"c":"H6","t":92,"v":94},{"c":"H6","t":93,"v":138},{"c":"H6","t":94,"v":98},{"c":"H6","t":95,"v":132},{"c":"H6","t":96,"v":99},{"c":"H6","t":97,"v":130},{"c":"H6","t":98,"v":102},{"c":"H6","t":99,"v":128},{"c":"H6","t":100,"v":103},
{"c":"H6","t":101,"v":129},{"c":"H6","t":102,"v":104},{"c":"H6","t":103,"v":126},{"c":"H6","t":104,"v":105},{"c":"H6","t":105,"v":128},{"c":"H6","t":106,"v":106},{"c":"H6","t":107,"v":125},{"c":"H6","t":108,"v":105},{"c":"H6","t":109,"v":125},{"c":"H6","t":110,"v":108},
{"c":"H6","t":111,"v":124},{"c":"H6","t":112,"v":109},{"c":"H6","t":113,"v":124},{"c":"H6","t":114,"v":110},{"c":"H6","t":115,"v":123},{"c":"H6","t":116,"v":109},{"c":"H6","t":117,"v":122},{"c":"H6","t":118,"v":110},{"c":"H6","t":119,"v":123},{"c":"H6","t":120,"v":110},
{"c":"H6","t":121,"v":121},{"c":"H6","t":122,"v":110},{"c":"H6","t":123,"v":121},{"c":"H6","t":124,"v":111},{"c":"H6","t":125,"v":120},{"c":"H6","t":126,"v":111},{"c":"H6","t":127,"v":120},{"c":"H6","t":128,"v":112},{"c":"H6","t":129,"v":120},{"c":"H6","t":130,"v":112},{"c":"H6","t":131,"v":119},{"c":"H6","t":132,"v":113},{"c":"H6","t":133,"v":119},{"c":"H6","t":134,"v":113},{"c":"H6","t":135,"v":119},
{"c":"H6","t":138,"v":114},{"c":"H6","t":141,"v":118},{"c":"H6","t":144,"v":114},{"c":"H6","t":147,"v":119},{"c":"H6","t":150,"v":114},{"c":"H6","t":153,"v":118},{"c":"H6","t":156,"v":114},{"c":"H6","t":159,"v":119},{"c":"H6","t":162,"v":114},{"c":"H6","t":165,"v":118},{"c":"H6","t":168,"v":113},{"c":"H6","t":171,"v":118},{"c":"H6","t":174,"v":114},{"c":"H6","t":177,"v":118},{"c":"H6","t":180,"v":114},

{"c":"H7","t":0,"v":58},{"c":"H7","t":3,"v":57},{"c":"H7","t":6,"v":59},{"c":"H7","t":9,"v":56},{"c":"H7","t":12,"v":59},{"c":"H7","t":15,"v":57},{"c":"H7","t":18,"v":60},{"c":"H7","t":21,"v":57},{"c":"H7","t":24,"v":60},{"c":"H7","t":27,"v":55},{"c":"H7","t":30,"v":62},
{"c":"H7","t":31,"v":64},{"c":"H7","t":32,"v":51},{"c":"H7","t":33,"v":65},{"c":"H7","t":34,"v":50},{"c":"H7","t":35,"v":67},{"c":"H7","t":36,"v":50},{"c":"H7","t":37,"v":68},{"c":"H7","t":38,"v":49},{"c":"H7","t":39,"v":70},{"c":"H7","t":40,"v":48},
{"c":"H7","t":41,"v":69},{"c":"H7","t":42,"v":48},{"c":"H7","t":43,"v":71},{"c":"H7","t":44,"v":47},{"c":"H7","t":45,"v":70},{"c":"H7","t":46,"v":45},{"c":"H7","t":47,"v":69},{"c":"H7","t":48,"v":46},{"c":"H7","t":49,"v":73},{"c":"H7","t":50,"v":46},
{"c":"H7","t":51,"v":70},{"c":"H7","t":52,"v":43},{"c":"H7","t":53,"v":72},{"c":"H7","t":54,"v":43},{"c":"H7","t":55,"v":70},{"c":"H7","t":56,"v":44},{"c":"H7","t":57,"v":74},{"c":"H7","t":58,"v":44},{"c":"H7","t":59,"v":71},{"c":"H7","t":60,"v":42},
{"c":"H7","t":61,"v":81},{"c":"H7","t":62,"v":37},{"c":"H7","t":63,"v":74},{"c":"H7","t":64,"v":43},{"c":"H7","t":65,"v":77},{"c":"H7","t":66,"v":38},{"c":"H7","t":67,"v":74},{"c":"H7","t":68,"v":42},{"c":"H7","t":69,"v":77},{"c":"H7","t":70,"v":41},
{"c":"H7","t":71,"v":85},{"c":"H7","t":72,"v":32},{"c":"H7","t":73,"v":76},{"c":"H7","t":74,"v":35},{"c":"H7","t":75,"v":83},{"c":"H7","t":76,"v":39},{"c":"H7","t":77,"v":73},{"c":"H7","t":78,"v":38},{"c":"H7","t":79,"v":74},{"c":"H7","t":80,"v":43},
{"c":"H7","t":81,"v":70},{"c":"H7","t":82,"v":44},{"c":"H7","t":83,"v":69},{"c":"H7","t":84,"v":48},{"c":"H7","t":85,"v":69},{"c":"H7","t":86,"v":46},{"c":"H7","t":87,"v":68},{"c":"H7","t":88,"v":45},{"c":"H7","t":89,"v":72},{"c":"H7","t":90,"v":43},
{"c":"H7","t":91,"v":79},{"c":"H7","t":92,"v":37},{"c":"H7","t":93,"v":81},{"c":"H7","t":94,"v":40},{"c":"H7","t":95,"v":74},{"c":"H7","t":96,"v":40},{"c":"H7","t":97,"v":72},{"c":"H7","t":98,"v":44},{"c":"H7","t":99,"v":70},{"c":"H7","t":100,"v":44},
{"c":"H7","t":101,"v":72},{"c":"H7","t":102,"v":46},{"c":"H7","t":103,"v":69},{"c":"H7","t":104,"v":47},{"c":"H7","t":105,"v":69},{"c":"H7","t":106,"v":48},{"c":"H7","t":107,"v":68},{"c":"H7","t":108,"v":46},{"c":"H7","t":109,"v":67},{"c":"H7","t":110,"v":49},
{"c":"H7","t":111,"v":66},{"c":"H7","t":112,"v":50},{"c":"H7","t":113,"v":65},{"c":"H7","t":114,"v":51},{"c":"H7","t":115,"v":65},{"c":"H7","t":116,"v":51},{"c":"H7","t":117,"v":64},{"c":"H7","t":118,"v":52},{"c":"H7","t":119,"v":65},{"c":"H7","t":120,"v":52},
{"c":"H7","t":121,"v":64},{"c":"H7","t":122,"v":52},{"c":"H7","t":123,"v":63},{"c":"H7","t":124,"v":53},{"c":"H7","t":125,"v":63},{"c":"H7","t":126,"v":53},{"c":"H7","t":127,"v":62},{"c":"H7","t":128,"v":54},{"c":"H7","t":129,"v":62},{"c":"H7","t":130,"v":54},{"c":"H7","t":131,"v":62},{"c":"H7","t":132,"v":55},{"c":"H7","t":133,"v":61},{"c":"H7","t":134,"v":54},{"c":"H7","t":135,"v":61},
{"c":"H7","t":138,"v":56},{"c":"H7","t":141,"v":61},{"c":"H7","t":144,"v":56},{"c":"H7","t":147,"v":60},{"c":"H7","t":150,"v":55},{"c":"H7","t":153,"v":60},{"c":"H7","t":156,"v":56},{"c":"H7","t":159,"v":60},{"c":"H7","t":162,"v":55},{"c":"H7","t":165,"v":60},{"c":"H7","t":168,"v":56},{"c":"H7","t":171,"v":61},{"c":"H7","t":174,"v":56},{"c":"H7","t":177,"v":60},{"c":"H7","t":180,"v":56},

{"c":"H8","t":0,"v":0},{"c":"H8","t":3,"v":-2},{"c":"H8","t":6,"v":1},{"c":"H8","t":9,"v":-1},{"c":"H8","t":12,"v":2},{"c":"H8","t":15,"v":-1},{"c":"H8","t":18,"v":1},{"c":"H8","t":21,"v":-2},{"c":"H8","t":24,"v":2},{"c":"H8","t":27,"v":-3},{"c":"H8","t":30,"v":4},
{"c":"H8","t":31,"v":7},{"c":"H8","t":32,"v":-8},{"c":"H8","t":33,"v":8},{"c":"H8","t":34,"v":-9},{"c":"H8","t":35,"v":9},{"c":"H8","t":36,"v":-10},{"c":"H8","t":37,"v":11},{"c":"H8","t":38,"v":-8},{"c":"H8","t":39,"v":11},{"c":"H8","t":40,"v":-11},
{"c":"H8","t":41,"v":10},{"c":"H8","t":42,"v":-12},{"c":"H8","t":43,"v":12},{"c":"H8","t":44,"v":-11},{"c":"H8","t":45,"v":13},{"c":"H8","t":46,"v":-12},{"c":"H8","t":47,"v":12},{"c":"H8","t":48,"v":-13},{"c":"H8","t":49,"v":14},{"c":"H8","t":50,"v":-12},
{"c":"H8","t":51,"v":13},{"c":"H8","t":52,"v":-15},{"c":"H8","t":53,"v":12},{"c":"H8","t":54,"v":-16},{"c":"H8","t":55,"v":14},{"c":"H8","t":56,"v":-13},{"c":"H8","t":57,"v":15},{"c":"H8","t":58,"v":-15},{"c":"H8","t":59,"v":13},{"c":"H8","t":60,"v":-17},
{"c":"H8","t":61,"v":22},{"c":"H8","t":62,"v":-22},{"c":"H8","t":63,"v":16},{"c":"H8","t":64,"v":-16},{"c":"H8","t":65,"v":18},{"c":"H8","t":66,"v":-20},{"c":"H8","t":67,"v":16},{"c":"H8","t":68,"v":-17},{"c":"H8","t":69,"v":20},{"c":"H8","t":70,"v":-16},
{"c":"H8","t":71,"v":28},{"c":"H8","t":72,"v":-25},{"c":"H8","t":73,"v":17},{"c":"H8","t":74,"v":-24},{"c":"H8","t":75,"v":24},{"c":"H8","t":76,"v":-20},{"c":"H8","t":77,"v":16},{"c":"H8","t":78,"v":-19},{"c":"H8","t":79,"v":16},{"c":"H8","t":80,"v":-14},
{"c":"H8","t":81,"v":12},{"c":"H8","t":82,"v":-13},{"c":"H8","t":83,"v":10},{"c":"H8","t":84,"v":-11},{"c":"H8","t":85,"v":12},{"c":"H8","t":86,"v":-12},{"c":"H8","t":87,"v":11},{"c":"H8","t":88,"v":-13},{"c":"H8","t":89,"v":14},{"c":"H8","t":90,"v":-16},
{"c":"H8","t":91,"v":20},{"c":"H8","t":92,"v":-21},{"c":"H8","t":93,"v":24},{"c":"H8","t":94,"v":-19},{"c":"H8","t":95,"v":17},{"c":"H8","t":96,"v":-18},{"c":"H8","t":97,"v":14},{"c":"H8","t":98,"v":-15},{"c":"H8","t":99,"v":13},{"c":"H8","t":100,"v":-13},
{"c":"H8","t":101,"v":14},{"c":"H8","t":102,"v":-12},{"c":"H8","t":103,"v":11},{"c":"H8","t":104,"v":-10},{"c":"H8","t":105,"v":11},{"c":"H8","t":106,"v":-10},{"c":"H8","t":107,"v":10},{"c":"H8","t":108,"v":-11},{"c":"H8","t":109,"v":9},{"c":"H8","t":110,"v":-9},
{"c":"H8","t":111,"v":8},{"c":"H8","t":112,"v":-8},{"c":"H8","t":113,"v":8},{"c":"H8","t":114,"v":-7},{"c":"H8","t":115,"v":7},{"c":"H8","t":116,"v":-6},{"c":"H8","t":117,"v":7},{"c":"H8","t":118,"v":-6},{"c":"H8","t":119,"v":6},{"c":"H8","t":120,"v":-6},
{"c":"H8","t":121,"v":6},{"c":"H8","t":122,"v":-5},{"c":"H8","t":123,"v":5},{"c":"H8","t":124,"v":-6},{"c":"H8","t":125,"v":5},{"c":"H8","t":126,"v":-4},{"c":"H8","t":127,"v":4},{"c":"H8","t":128,"v":-5},{"c":"H8","t":129,"v":4},{"c":"H8","t":130,"v":-4},{"c":"H8","t":131,"v":3},{"c":"H8","t":132,"v":-4},{"c":"H8","t":133,"v":3},{"c":"H8","t":134,"v":-3},{"c":"H8","t":135,"v":3},
{"c":"H8","t":138,"v":-3},{"c":"H8","t":141,"v":2},{"c":"H8","t":144,"v":-2},{"c":"H8","t":147,"v":3},{"c":"H8","t":150,"v":-2},{"c":"H8","t":153,"v":2},{"c":"H8","t":156,"v":-2},{"c":"H8","t":159,"v":2},{"c":"H8","t":162,"v":-3},{"c":"H8","t":165,"v":2},{"c":"H8","t":168,"v":-2},{"c":"H8","t":171,"v":2},{"c":"H8","t":174,"v":-3},{"c":"H8","t":177,"v":2},{"c":"H8","t":180,"v":-2}
]},
"layer": [
{
"data": {"name": "env"},
"mark": {"type": "area", "color": "#0000ff", "opacity": 1, "clip": true, "interpolate": "linear"},
"encoding": {
"x": {"field": "t", "type": "quantitative", "scale": {"domain": [0, 180], "nice": false, "zero": false}, "axis": null},
"y": {"field": "lo", "type": "quantitative", "scale": {"domain": [-34, 435], "nice": false, "zero": false}, "axis": null},
"y2": {"field": "hi"},
"detail": {"field": "c", "type": "nominal"}
}
},
{
"mark": {"type": "line", "color": "#0000ff", "strokeWidth": 1.1, "clip": true, "interpolate": "linear"},
"encoding": {
"x": {"field": "t", "type": "quantitative", "scale": {"domain": [0, 180], "nice": false, "zero": false},
"axis": {"orient": "bottom", "values": [0,10,20,30,40,50,60,70,80,90,100,110,120,130,140,150,160,170,180], "labelExpr": "datum.value % 60 == 0 ? (18 + datum.value / 60) + ':00:00' : ''", "ticks": true, "tickSize": -5, "tickColor": "black", "tickWidth": 1, "domain": false, "grid": false, "labelFont": "Liberation Sans", "labelFontSize": 12, "labelColor": "black", "labelPadding": 8, "labelFlush": false, "labelOverlap": false, "title": "Time (hr:min:sec)", "titleFont": "Liberation Sans", "titleFontSize": 12, "titleFontWeight": "normal", "titleColor": "black", "titlePadding": 1, "titleX": 240}},
"y": {"field": "v", "type": "quantitative", "scale": {"domain": [-34, 435], "nice": false, "zero": false}, "axis": null},
"detail": {"field": "c", "type": "nominal"}
}
},
{
"transform": [{"filter": "datum.t == 0"}],
"mark": {"type": "text", "align": "left", "baseline": "alphabetic", "dx": 3, "dy": -6, "fontSize": 15, "fontWeight": "bold", "font": "Liberation Sans", "color": "black"},
"encoding": {
"x": {"field": "t", "type": "quantitative", "axis": {"orient": "top", "values": [10,20,30,40,50,60,70,80,90,100,110,120,130,140,150,160,170], "labels": false, "domain": false, "grid": false, "ticks": true, "tickSize": -5, "tickColor": "black", "tickWidth": 1, "title": null}},
"y": {"field": "v", "type": "quantitative", "axis": null},
"text": {"field": "c", "type": "nominal"}
}
},
{
"data": {"values": [{"note": "(0.05 -0.1 Hz)"}]},
"mark": {"type": "text", "align": "left", "baseline": "alphabetic", "dx": 5, "fontSize": 14, "fontWeight": "bold", "font": "Liberation Sans", "color": "black"},
"encoding": {
"x": {"datum": 0, "type": "quantitative", "axis": null},
"y": {"datum": -27, "type": "quantitative", "axis": null},
"text": {"field": "note", "type": "nominal"}
}
}
],
"resolve": {"axis": {"x": "independent"}}
}
